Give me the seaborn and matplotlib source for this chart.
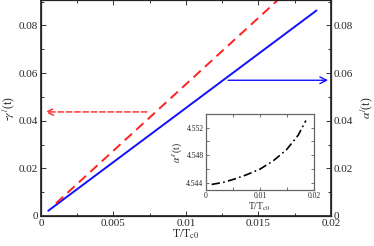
import matplotlib
matplotlib.use("Agg")
import matplotlib.pyplot as plt
import seaborn as sns
import pandas as pd
from matplotlib.ticker import FixedLocator

# ---- data ----
alpha_x = [0.0005, 0.0190]
alpha_y = [0.0022, 0.0863]
gamma_x = [0.00103, 0.0163]
gamma_y = [0.0053, 0.0905]
inset_x = [0.0011, 0.00325, 0.0054, 0.00755, 0.0100, 0.01245, 0.0149, 0.01706, 0.01847]
inset_y = [4.5438, 4.5441, 4.5446, 4.5452, 4.5460, 4.5472, 4.5488, 4.5509, 4.5530]
red_arrow = [0.0073, 0.0003, 0.0437]   # x start, x end, y
blue_arrow = [0.0129, 0.0198, 0.0570]

xticks = [0, 0.005, 0.01, 0.015, 0.02]
xticklabels = ["0", "0.005", "0.01", "0.015", "0.02"]
yticks = [0, 0.02, 0.04, 0.06, 0.08]
yticklabels = ["0", "0.02", "0.04", "0.06", "0.08"]
in_xticks = [0, 0.01, 0.02]
in_xticklabels = ["0", "0.01", "0.02"]
in_yticks = [4.544, 4.548, 4.552]
in_yticklabels = ["4.544", "4.548", "4.552"]

sns.set_theme(style="ticks")
plt.rcParams["font.family"] = ["Liberation Serif", "DejaVu Serif"]
plt.rcParams["mathtext.fontset"] = "stix"

fig = plt.figure(figsize=(3.74, 2.46), dpi=100)
ax = fig.add_axes([0.1096, 0.122, 0.7754, 0.876])

df_a = pd.DataFrame({"x": alpha_x, "y": alpha_y})
df_g = pd.DataFrame({"x": gamma_x, "y": gamma_y})
sns.lineplot(data=df_a, x="x", y="y", ax=ax, color="#1010ff", lw=1.4, sort=False)
sns.lineplot(data=df_g, x="x", y="y", ax=ax, color="#ff2020", lw=1.4, sort=False,
             dashes=False, linestyle=(0, (5, 3)))

ax.annotate("", xy=(red_arrow[1], red_arrow[2]), xytext=(red_arrow[0], red_arrow[2]),
            arrowprops=dict(arrowstyle="->", color="#ff2020", lw=1.0, linestyle=(0, (4, 2)),
                            shrinkA=0, shrinkB=0))
ax.annotate("", xy=(blue_arrow[1], blue_arrow[2]), xytext=(blue_arrow[0], blue_arrow[2]),
            arrowprops=dict(arrowstyle="->", color="#1010ff", lw=1.0, shrinkA=0, shrinkB=0))

ax.set_xlim(0, 0.02)
ax.set_ylim(0, 0.0905)
ax.set_xticks(xticks)
ax.set_xticklabels(xticklabels)
ax.set_yticks(yticks)
ax.set_yticklabels(yticklabels)
ax.xaxis.set_minor_locator(FixedLocator([0.0025, 0.0075, 0.0125, 0.0175]))
ax.yaxis.set_minor_locator(FixedLocator([0.01, 0.03, 0.05, 0.07, 0.09]))
ax.tick_params(which="both", direction="in", top=True, right=False, labelsize=8, pad=2,
               color="#333333")
ax.tick_params(which="major", length=3.5, width=0.7)
ax.tick_params(which="minor", length=2, width=0.7)
ax.set_xlabel(r"T/T$_{\rm c0}$", fontsize=8.5, labelpad=0)
ax.set_ylabel(r"-$\gamma^{/}$(t)", fontsize=8.5, labelpad=1)
for s in ax.spines.values():
    s.set_linewidth(0.9)
    s.set_color("#222222")

ax2 = ax.twinx()
ax2.set_ylim(ax.get_ylim())
ax2.set_yticks(yticks)
ax2.set_yticklabels(yticklabels)
ax2.yaxis.set_minor_locator(FixedLocator([0.01, 0.03, 0.05, 0.07, 0.09]))
ax2.tick_params(which="both", direction="in", labelsize=8, pad=2, color="#333333")
ax2.tick_params(which="major", length=3.5, width=0.7)
ax2.tick_params(which="minor", length=2, width=0.7)
ax2.set_ylabel(r"$\alpha^{/}$(t)", fontsize=8.5, labelpad=4)

# inset
ins = fig.add_axes([0.550, 0.2276, 0.290, 0.3077])
df_i = pd.DataFrame({"x": inset_x, "y": inset_y})
sns.lineplot(data=df_i, x="x", y="y", ax=ins, color="black", lw=1.2, sort=False,
             linestyle=(0, (5, 2, 1, 2)))
ins.set_xlim(0, 0.02)
ins.set_ylim(4.5430, 4.5539)
ins.set_xticks(in_xticks)
ins.set_xticklabels(in_xticklabels)
ins.set_yticks(in_yticks)
ins.set_yticklabels(in_yticklabels)
ins.xaxis.set_minor_locator(FixedLocator([0.005, 0.015]))
ins.yaxis.set_minor_locator(FixedLocator([4.546, 4.550]))
ins.tick_params(which="both", direction="in", top=True, right=True, labelsize=5.5, pad=1.5,
                color="#555555")
ins.tick_params(which="major", length=2.5, width=0.6)
ins.tick_params(which="minor", length=2.5, width=0.6)
ins.set_xlabel(r"T/T$_{\rm c0}$", fontsize=7, labelpad=0)
ins.set_ylabel(r"$\alpha^{//}$(t)", fontsize=7, labelpad=1)
for s in ins.spines.values():
    s.set_linewidth(0.9)
    s.set_color("#666666")

fig.savefig("out.png", dpi=100)
